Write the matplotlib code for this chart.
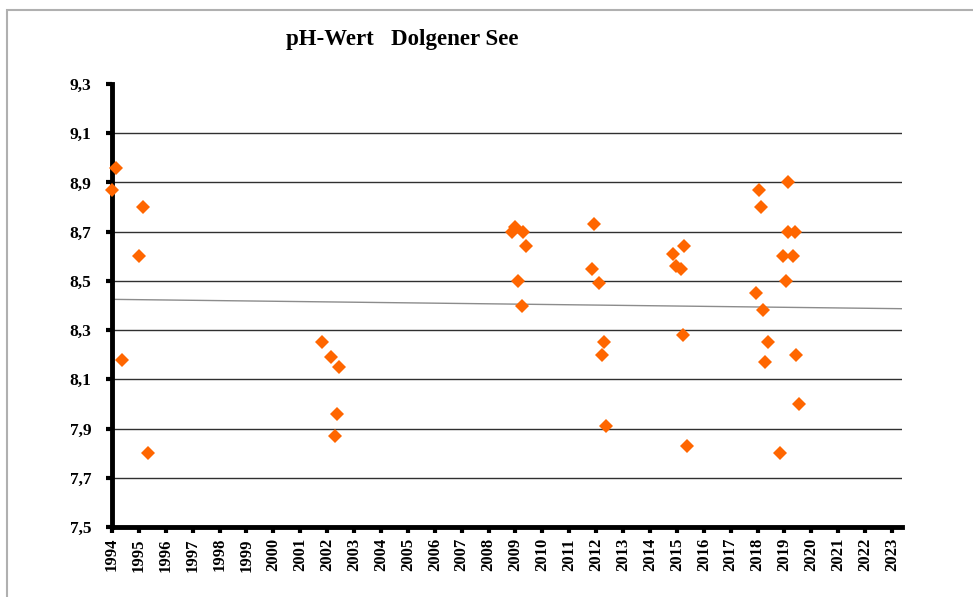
import numpy as np
import matplotlib.pyplot as plt
import matplotlib as mpl
from matplotlib.patches import Rectangle

# sampling dates (decimal years) and measured pH values
dates = [1994.00, 1994.15, 1994.38, 1995.01, 1995.14, 1995.33,
         2001.82, 2002.13, 2002.28, 2002.38, 2002.45,
         2008.86, 2008.98, 2009.09, 2009.23, 2009.29, 2009.38,
         2011.84, 2011.93, 2012.12, 2012.20, 2012.30, 2012.38,
         2014.87, 2014.97, 2015.14, 2015.21, 2015.28, 2015.36,
         2017.94, 2018.05, 2018.11, 2018.21, 2018.29, 2018.39, 2018.83,
         2018.96, 2019.06, 2019.12, 2019.14, 2019.30, 2019.41, 2019.43, 2019.55]
ph = [8.87, 8.96, 8.18, 8.60, 8.80, 7.80,
      8.25, 8.19, 7.87, 7.96, 8.15,
      8.70, 8.72, 8.50, 8.40, 8.70, 8.64,
      8.55, 8.73, 8.49, 8.20, 8.25, 7.91,
      8.61, 8.56, 8.55, 8.28, 8.64, 7.83,
      8.45, 8.87, 8.80, 8.38, 8.17, 8.25, 7.80,
      8.60, 8.50, 8.90, 8.70, 8.60, 8.70, 8.20, 8.00]
# linear trend line as shown in the chart (value at start and end of axis)
trend_ph = [8.425, 8.387]
years = list(range(1994, 2024))
yticks = [7.5, 7.7, 7.9, 8.1, 8.3, 8.5, 8.7, 8.9, 9.1, 9.3]

serif = ['Liberation Serif', 'DejaVu Serif']

fig = plt.figure(figsize=(9.73, 5.97), dpi=100)
ax = fig.add_axes([112/973, 1-527/597, 790/973, 443/597])

# outer frame of the chart area
fig.patches.append(Rectangle((7/973, -0.1), 1.1, 1-10/597+0.1, transform=fig.transFigure,
                             fill=False, edgecolor='#b0b0b0', lw=1.5))

for g in yticks[1:-1]:
    ax.axhline(g, color='#303030', lw=1.0, zorder=1)

xlim = (1994, 2023.37)
ax.plot(xlim, trend_ph, color='#8c8c8c', lw=1.0, zorder=2)

ax.plot(dates, ph, linestyle='none', marker='D', markersize=7.6,
        color='#ff6600', markeredgewidth=0, zorder=3, clip_on=False)

ax.set_xlim(*xlim)
ax.set_ylim(7.5, 9.3)
ax.set_xticks(years)
ax.set_xticklabels([str(y) for y in years], rotation=90, fontfamily=serif,
                   fontweight='bold', fontsize=12)
ax.set_yticks(yticks)
ax.set_yticklabels([f"{v:.1f}".replace('.', ',') for v in yticks], fontfamily=serif,
                   fontweight='bold', fontsize=12.5)
ax.tick_params(axis='both', direction='out', length=4, width=3, color='black')
ax.tick_params(axis='x', pad=4)
ax.tick_params(axis='y', pad=11)
for s in ['top', 'right']:
    ax.spines[s].set_visible(False)
for s in ['left', 'bottom']:
    ax.spines[s].set_linewidth(3.5)

fig.text(402/973, 1-40/597, 'pH-Wert   Dolgener See', ha='center', va='center',
         fontfamily=serif, fontweight='bold', fontsize=16.5)

fig.savefig('out.png', dpi=100)
